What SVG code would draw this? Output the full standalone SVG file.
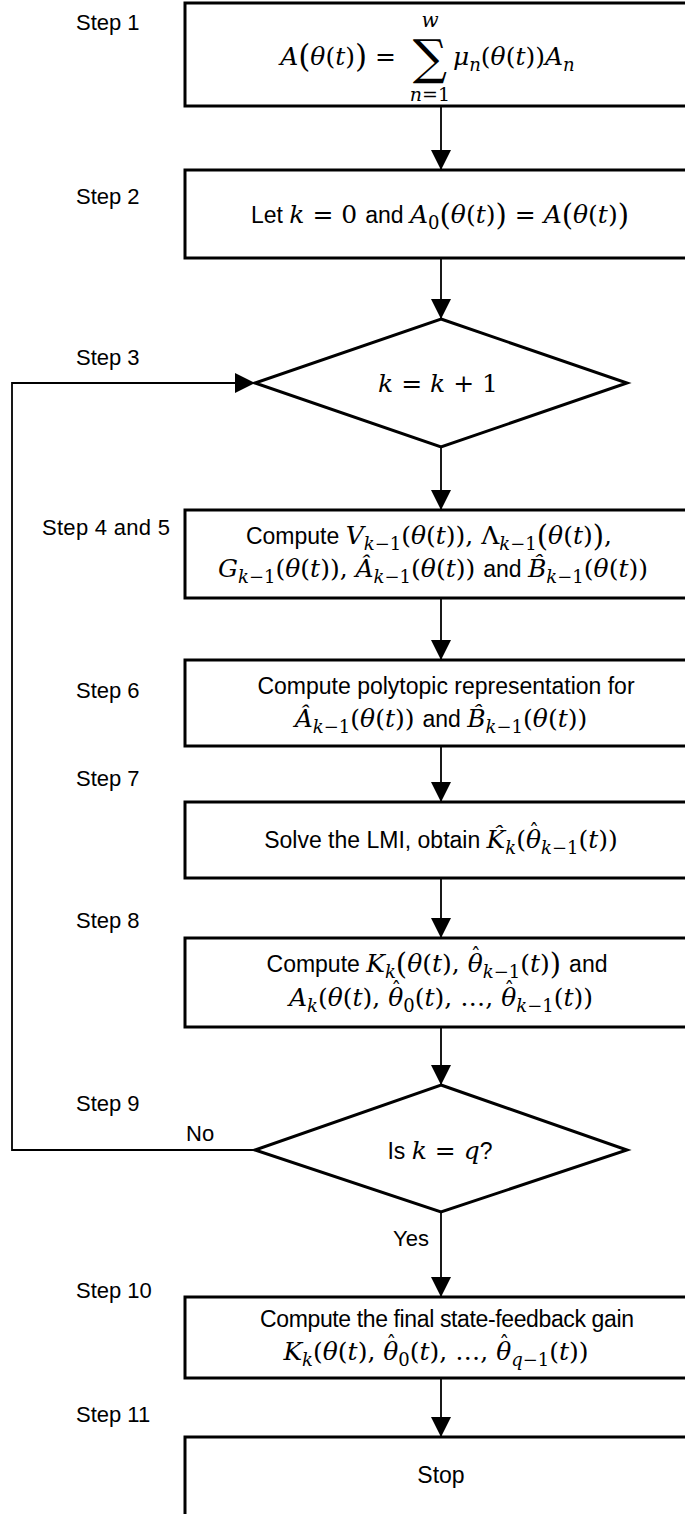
<svg xmlns="http://www.w3.org/2000/svg" width="685" height="1514" viewBox="0 0 685 1514">
<style>
.box{fill:#fff;stroke:#000;stroke-width:3}
.dia{fill:#fff;stroke:#000;stroke-width:3}
.conn{fill:none;stroke:#000;stroke-width:1.8}
.lbl{font-family:"Liberation Sans",Arial,sans-serif;font-size:22px;fill:#000}
.t{font-family:"Liberation Sans",Arial,sans-serif;font-size:23px;fill:#000}
.i{font-family:"DejaVu Serif","Liberation Serif",serif;font-style:italic;font-size:25px}
.u{font-family:"DejaVu Serif","Liberation Serif",serif;font-style:normal;font-size:25px}
.s{font-family:"DejaVu Serif","Liberation Serif",serif;font-style:italic;font-size:18px}
.su{font-family:"DejaVu Serif","Liberation Serif",serif;font-style:normal;font-size:18px}
.hat{font-family:"DejaVu Serif","Liberation Serif",serif;font-style:normal;font-size:20px}
</style>
<defs>
<marker id="arr" markerUnits="userSpaceOnUse" markerWidth="20" markerHeight="20" refX="20" refY="10" orient="auto">
<path d="M0,0 L20,10 L0,20 z" fill="#000"/>
</marker>
</defs>

<g id="connectors">
<line class="conn" x1="441" y1="106" x2="441" y2="170" marker-end="url(#arr)"/>
<line class="conn" x1="441" y1="258" x2="441" y2="319" marker-end="url(#arr)"/>
<line class="conn" x1="441" y1="447" x2="441" y2="510" marker-end="url(#arr)"/>
<line class="conn" x1="441" y1="598" x2="441" y2="660" marker-end="url(#arr)"/>
<line class="conn" x1="441" y1="746" x2="441" y2="802" marker-end="url(#arr)"/>
<line class="conn" x1="441" y1="878" x2="441" y2="938" marker-end="url(#arr)"/>
<line class="conn" x1="441" y1="1027" x2="441" y2="1085" marker-end="url(#arr)"/>
<line class="conn" x1="441" y1="1212" x2="441" y2="1297" marker-end="url(#arr)"/>
<line class="conn" x1="441" y1="1378" x2="441" y2="1437" marker-end="url(#arr)"/>
<polyline class="conn" points="255,1150 12,1150 12,383 255,383" marker-end="url(#arr)"/>
<text class="lbl" x="186" y="1141">No</text>
<text class="lbl" x="429" y="1246" text-anchor="end">Yes</text>
</g>

<g id="step1">
<text class="lbl" x="76" y="30">Step 1</text>
<rect class="box" x="185" y="3" width="520" height="103"/>
<text x="396" y="65" text-anchor="end"><tspan class="i">A</tspan><tspan class="u" style="font-size:31px" dy="2">(</tspan><tspan class="i" dy="-2">θ</tspan><tspan class="u">(</tspan><tspan class="i">t</tspan><tspan class="u">)</tspan><tspan class="u" style="font-size:31px" dy="2">)</tspan><tspan class="u" dy="-2"> =</tspan></text>
<text class="u" x="430" y="74" text-anchor="middle" style="font-size:48px">∑</text>
<text class="s" x="430" y="27" text-anchor="middle" style="font-size:20px">w</text>
<text x="430" y="101" text-anchor="middle"><tspan class="s" style="font-size:19px">n</tspan><tspan class="su" style="font-size:19px">=1</tspan></text>
<text x="453" y="65"><tspan class="i">μ</tspan><tspan class="s" dy="6">n</tspan><tspan class="u" dy="-6">(</tspan><tspan class="i">θ</tspan><tspan class="u">(</tspan><tspan class="i">t</tspan><tspan class="u">))</tspan><tspan class="i">A</tspan><tspan class="s" dy="6">n</tspan></text>
</g>

<g id="step2">
<text class="lbl" x="76" y="204">Step 2</text>
<rect class="box" x="185" y="170" width="520" height="88"/>
<text class="t" x="440" y="223" text-anchor="middle">Let <tspan class="i">k</tspan><tspan class="u"> = 0 </tspan>and <tspan class="i">A</tspan><tspan class="su" dy="6">0</tspan><tspan class="u" dy="-4" style="font-size:29px">(</tspan><tspan class="i" dy="-2">θ</tspan><tspan class="u">(</tspan><tspan class="i">t</tspan><tspan class="u">)</tspan><tspan class="u" dy="2" style="font-size:29px">)</tspan><tspan class="u" dy="-2"> = </tspan><tspan class="i">A</tspan><tspan class="u" dy="2" style="font-size:29px">(</tspan><tspan class="i" dy="-2">θ</tspan><tspan class="u">(</tspan><tspan class="i">t</tspan><tspan class="u">)</tspan><tspan class="u" dy="2" style="font-size:29px">)</tspan></text>
</g>

<g id="step3">
<text class="lbl" x="76" y="365">Step 3</text>
<polygon class="dia" points="441,319 627,383 441,447 255,383"/>
<text x="438" y="392" text-anchor="middle"><tspan class="i">k</tspan><tspan class="u"> = </tspan><tspan class="i">k</tspan><tspan class="u"> + 1</tspan></text>
</g>

<g id="step4">
<text class="lbl" x="42" y="535" textLength="128">Step 4 and 5</text>
<rect class="box" x="185" y="510" width="520" height="88"/>
<text class="t" x="429" y="544" text-anchor="middle">Compute <tspan class="i">V</tspan><tspan class="s" dy="6">k</tspan><tspan class="su">−1</tspan><tspan class="u" dy="-6">(</tspan><tspan class="i">θ</tspan><tspan class="u">(</tspan><tspan class="i">t</tspan><tspan class="u">)), Λ</tspan><tspan class="s" dy="6">k</tspan><tspan class="su">−1</tspan><tspan class="u" dy="-4" style="font-size:29px">(</tspan><tspan class="i" dy="-2">θ</tspan><tspan class="u">(</tspan><tspan class="i">t</tspan><tspan class="u">)</tspan><tspan class="u" dy="2" style="font-size:29px">)</tspan><tspan class="u" dy="-2">,</tspan></text>
<text class="t" x="433" y="577" text-anchor="middle"><tspan class="i">G</tspan><tspan class="s" dy="6">k</tspan><tspan class="su">−1</tspan><tspan class="u" dy="-6">(</tspan><tspan class="i">θ</tspan><tspan class="u">(</tspan><tspan class="i">t</tspan><tspan class="u">)), </tspan><tspan class="i">Â</tspan><tspan class="s" dy="6">k</tspan><tspan class="su">−1</tspan><tspan class="u" dy="-6">(</tspan><tspan class="i">θ</tspan><tspan class="u">(</tspan><tspan class="i">t</tspan><tspan class="u">)) </tspan>and <tspan class="i">B̂</tspan><tspan class="s" dy="6">k</tspan><tspan class="su">−1</tspan><tspan class="u" dy="-6">(</tspan><tspan class="i">θ</tspan><tspan class="u">(</tspan><tspan class="i">t</tspan><tspan class="u">))</tspan></text>
</g>

<g id="step6">
<text class="lbl" x="76" y="698">Step 6</text>
<rect class="box" x="185" y="660" width="520" height="86"/>
<text class="t" x="446" y="694" text-anchor="middle">Compute polytopic representation for</text>
<text class="t" x="441" y="727" text-anchor="middle"><tspan class="i">Â</tspan><tspan class="s" dy="6">k</tspan><tspan class="su">−1</tspan><tspan class="u" dy="-6">(</tspan><tspan class="i">θ</tspan><tspan class="u">(</tspan><tspan class="i">t</tspan><tspan class="u">)) </tspan>and <tspan class="i">B̂</tspan><tspan class="s" dy="6">k</tspan><tspan class="su">−1</tspan><tspan class="u" dy="-6">(</tspan><tspan class="i">θ</tspan><tspan class="u">(</tspan><tspan class="i">t</tspan><tspan class="u">))</tspan></text>
</g>

<g id="step7">
<text class="lbl" x="76" y="786">Step 7</text>
<rect class="box" x="185" y="802" width="520" height="76"/>
<text class="t" x="441" y="848" text-anchor="middle">Solve the LMI, obtain <tspan class="i">K̂</tspan><tspan class="s" dy="6">k</tspan><tspan class="u" dy="-6">(</tspan><tspan class="i">θ</tspan><tspan class="hat" dx="-12" dy="-9">ˆ</tspan><tspan class="s" dx="2" dy="15">k</tspan><tspan class="su">−1</tspan><tspan class="u" dy="-6">(</tspan><tspan class="i">t</tspan><tspan class="u">))</tspan></text>
</g>

<g id="step8">
<text class="lbl" x="76" y="928">Step 8</text>
<rect class="box" x="185" y="938" width="520" height="89"/>
<text class="t" x="437" y="972" text-anchor="middle">Compute <tspan class="i">K</tspan><tspan class="s" dy="6">k</tspan><tspan class="u" dy="-4" style="font-size:29px">(</tspan><tspan class="i" dy="-2">θ</tspan><tspan class="u">(</tspan><tspan class="i">t</tspan><tspan class="u">), </tspan><tspan class="i">θ</tspan><tspan class="hat" dx="-12" dy="-9">ˆ</tspan><tspan class="s" dx="2" dy="15">k</tspan><tspan class="su">−1</tspan><tspan class="u" dy="-6">(</tspan><tspan class="i">t</tspan><tspan class="u">)</tspan><tspan class="u" dy="2" style="font-size:29px">)</tspan><tspan class="u" dy="-2"> </tspan>and</text>
<text class="t" x="441" y="1006" text-anchor="middle"><tspan class="i">A</tspan><tspan class="s" dy="6">k</tspan><tspan class="u" dy="-6">(</tspan><tspan class="i">θ</tspan><tspan class="u">(</tspan><tspan class="i">t</tspan><tspan class="u">), </tspan><tspan class="i">θ</tspan><tspan class="hat" dx="-12" dy="-9">ˆ</tspan><tspan class="su" dx="2" dy="15">0</tspan><tspan class="u" dy="-6">(</tspan><tspan class="i">t</tspan><tspan class="u">), …, </tspan><tspan class="i">θ</tspan><tspan class="hat" dx="-12" dy="-9">ˆ</tspan><tspan class="s" dx="2" dy="15">k</tspan><tspan class="su">−1</tspan><tspan class="u" dy="-6">(</tspan><tspan class="i">t</tspan><tspan class="u">))</tspan></text>
</g>

<g id="step9">
<text class="lbl" x="76" y="1111">Step 9</text>
<polygon class="dia" points="441,1085 627,1150 441,1212 255,1150"/>
<text class="t" x="440" y="1159" text-anchor="middle">Is <tspan class="i">k</tspan><tspan class="u"> = </tspan><tspan class="i">q</tspan>?</text>
</g>

<g id="step10">
<text class="lbl" x="76" y="1298">Step 10</text>
<rect class="box" x="185" y="1297" width="520" height="81"/>
<text class="t" x="447" y="1327" text-anchor="middle" textLength="374">Compute the final state-feedback gain</text>
<text class="t" x="436" y="1360" text-anchor="middle"><tspan class="i">K</tspan><tspan class="s" dy="6">k</tspan><tspan class="u" dy="-6">(</tspan><tspan class="i">θ</tspan><tspan class="u">(</tspan><tspan class="i">t</tspan><tspan class="u">), </tspan><tspan class="i">θ</tspan><tspan class="hat" dx="-12" dy="-9">ˆ</tspan><tspan class="su" dx="2" dy="15">0</tspan><tspan class="u" dy="-6">(</tspan><tspan class="i">t</tspan><tspan class="u">), …, </tspan><tspan class="i">θ</tspan><tspan class="hat" dx="-12" dy="-9">ˆ</tspan><tspan class="s" dx="2" dy="15">q</tspan><tspan class="su">−1</tspan><tspan class="u" dy="-6">(</tspan><tspan class="i">t</tspan><tspan class="u">))</tspan></text>
</g>

<g id="step11">
<text class="lbl" x="76" y="1422">Step 11</text>
<rect class="box" x="185" y="1437" width="520" height="90"/>
<text class="t" x="441" y="1483" text-anchor="middle">Stop</text>
</g>
</svg>
